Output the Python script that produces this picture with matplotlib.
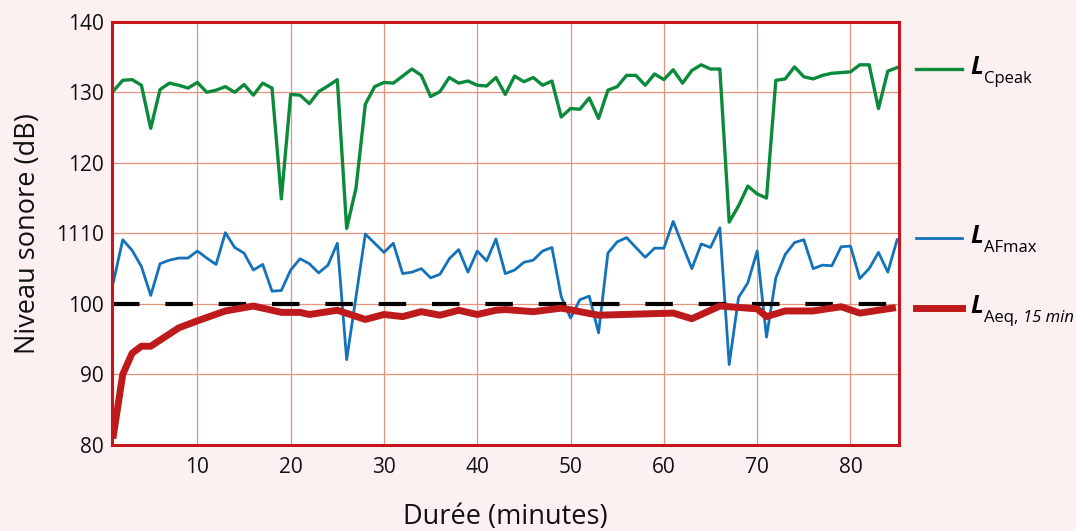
import numpy as np
import matplotlib
matplotlib.use("Agg")
import matplotlib.pyplot as plt
from matplotlib.lines import Line2D

plt.rcParams['font.family'] = ['Open Sans', 'DejaVu Sans']

minutes = np.arange(1, 86)

l_cpeak = [130.2, 131.7, 131.8, 131.0, 124.9, 130.4, 131.3, 131.0, 130.6, 131.4,
           130.0, 130.3, 130.8, 130.0, 131.1, 129.6, 131.3, 130.6, 114.9, 129.7,
           129.6, 128.4, 130.1, 130.9, 131.8, 110.7, 116.4, 128.3, 130.8, 131.4,
           131.3, 132.3, 133.3, 132.4, 129.4, 130.1, 132.1, 131.3, 131.6, 131.0,
           130.9, 132.1, 129.7, 132.3, 131.5, 132.1, 131.0, 131.6, 126.5, 127.7,
           127.6, 129.2, 126.3, 130.3, 130.8, 132.4, 132.4, 131.0, 132.6, 131.8,
           133.2, 131.3, 133.1, 133.9, 133.3, 133.3, 111.6, 113.9, 116.7, 115.6,
           115.0, 131.7, 131.9, 133.6, 132.2, 131.9, 132.4, 132.7, 132.8, 132.9,
           133.9, 133.9, 127.7, 133.0, 133.5]

l_afmax = [103.1, 109.1, 107.6, 105.3, 101.2, 105.7, 106.2, 106.5, 106.5, 107.5,
           106.5, 105.6, 110.1, 108.0, 107.2, 104.8, 105.6, 101.8, 101.9, 104.8,
           106.4, 105.7, 104.4, 105.5, 108.6, 92.1, 101.0, 109.9, 108.6, 107.3,
           108.6, 104.3, 104.5, 105.0, 103.7, 104.2, 106.4, 107.7, 104.5, 107.5,
           106.1, 109.2, 104.3, 104.8, 105.9, 106.2, 107.5, 108.0, 101.0, 98.0,
           100.6, 101.1, 95.9, 107.2, 108.8, 109.4, 108.0, 106.6, 107.9, 107.9,
           111.7, 108.3, 105.0, 108.5, 108.0, 110.8, 91.4, 100.9, 103.0, 107.5,
           95.3, 103.7, 107.0, 108.7, 109.1, 105.0, 105.5, 105.4, 108.1, 108.2,
           103.6, 105.0, 107.3, 104.5, 109.1]

laeq_min = [1, 2, 3, 4, 5, 8, 10, 13, 16, 19, 21, 22, 25, 28, 30, 32, 34, 36,
            38, 40, 42, 43, 46, 49, 53, 61, 63, 66, 70, 71, 73, 76, 79, 81, 84.5]
laeq = [81.4, 90.0, 93.0, 94.0, 94.0, 96.6, 97.6, 99.0, 99.7, 98.8, 98.8, 98.5,
        99.1, 97.8, 98.5, 98.2, 98.9, 98.4, 99.1, 98.5, 99.1, 99.2, 98.9, 99.4,
        98.4, 98.7, 97.9, 99.7, 99.3, 98.2, 99.0, 99.0, 99.6, 98.7, 99.4]

limit = 100
y_ticks = [80, 90, 100, 110, 120, 130, 140]
y_labels = ['80', '90', '100', '1110', '120', '130', '140']
x_ticks = [10, 20, 30, 40, 50, 60, 70, 80]

green = '#0b8a3b'
blue = '#1372b9'
red = '#be1a1c'

fig = plt.figure(figsize=(10.76, 5.31), dpi=100, facecolor='#fcf1f0')
ax = fig.add_axes([0.1041, 0.162, 0.7314, 0.797])
ax.set_facecolor('white')

ax.grid(True, color='#e8927a', linewidth=0.9)
ax.set_axisbelow(True)

ax.plot(minutes, l_cpeak, color=green, linewidth=2.4)
ax.plot(minutes, l_afmax, color=blue, linewidth=2.0)
ax.axhline(limit, color='black', linewidth=3, dashes=(6.6, 6.2))
ax.plot(laeq_min, laeq, color=red, linewidth=5, solid_joinstyle='round')

ax.set_xlim(0.85, 85.2)
ax.set_ylim(80, 140)
ax.set_xticks(x_ticks)
ax.set_yticks(y_ticks)
ax.set_yticklabels(y_labels)
ax.tick_params(length=0, labelsize=15, colors='#111111')
ax.tick_params(axis='x', pad=9)
ax.tick_params(axis='y', pad=6)

for s in ax.spines.values():
    s.set_color('#c4161c')
    s.set_linewidth(2.2)

ax.set_xlabel('Durée (minutes)', fontsize=19.5, labelpad=18, color='#111111')
ax.set_ylabel('Niveau sonore (dB)', fontsize=19.5, labelpad=10, color='#111111')

# legend drawn by hand on the right side
W, H = 1076, 531
entries = [(green, 2.4, 69, 'Cpeak', None),
           (blue, 2.0, 238, 'AFmax', None),
           (red, 5, 308, 'Aeq, ', '15 min')]
for color, lw, yp, sub, sub_it in entries:
    fig.add_artist(Line2D([916 / W, 962 / W], [1 - yp / H, 1 - yp / H],
                          color=color, linewidth=lw))
    fig.text(970 / W, 1 - (yp + 5) / H, 'L', fontsize=18, fontweight='bold',
             fontstyle='italic', va='baseline')
    t = fig.text(984 / W, 1 - (yp + 14) / H, sub, fontsize=12, va='baseline')
    if sub_it:
        fig.canvas.draw()
        bb = t.get_window_extent()
        fig.text(bb.x1 / W, 1 - (yp + 14) / H, sub_it, fontsize=12,
                 fontstyle='italic', va='baseline')

fig.savefig('out.png', dpi=100, facecolor=fig.get_facecolor())
